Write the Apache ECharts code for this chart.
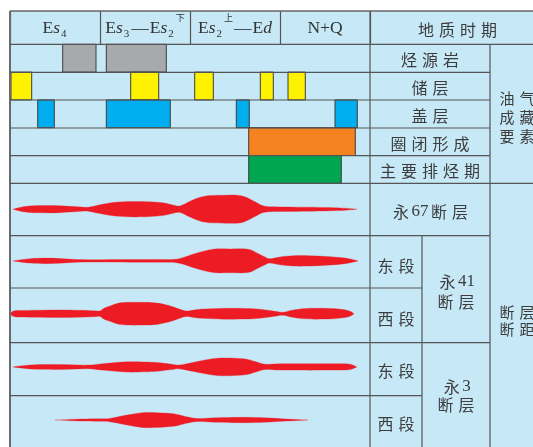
<!DOCTYPE html>
<html><head><meta charset="utf-8">
<script src="https://cdn.jsdelivr.net/npm/echarts@6/dist/echarts.min.js"></script>
<style>html,body{margin:0;padding:0;background:#fff}#c{width:533px;height:447px}</style>
</head><body><div id="c"></div>
<script>
// ---------- DATA ----------
// geological periods (time axis 0–360, each period 90 units)
const periods = ['Es4', 'Es3—Es2下', 'Es2上—Ed', 'N+Q'];
// petroleum system elements (rows)
const elementRows = ['烃源岩', '储层', '盖层', '圈闭形成', '主要排烃期'];
// [start, end] on the time axis
const sourceRock    = [[52.7, 86], [96.3, 156.3]];
const reservoir     = [[1, 21.7], [120.7, 148.7], [184.7, 203.3], [250.3, 263.3], [278, 295.3]];
const caprock       = [[27.7, 44.3], [96.3, 160.3], [226.3, 239.3], [325, 347.3]];
const trapFormation = [[238.7, 345.3]];
const mainExpulsion = [[238.7, 331.3]];

// fault throw profiles (x on time axis, relative throw thickness)
const faultNames = ['永67断层', '永41断层东段', '永41断层西段', '永3断层东段', '永3断层西段'];
const y67X  = [3, 15, 33, 50, 68, 78, 90, 105, 123, 140, 153, 162, 170, 180, 190, 200, 215, 227, 235, 245, 255, 275, 300, 330, 347];
const y67T  = [0, 5.6, 7.4, 7, 4.8, 4, 9, 14, 15.6, 15, 13, 9, 6.6, 16, 24, 27.6, 28.4, 28.4, 25, 15, 6, 4.6, 4, 2.6, 0];
const y41EX = [3, 20, 35, 50, 67, 90, 120, 150, 165, 175, 187, 203, 220, 238, 248, 255, 260, 270, 283, 300, 317, 335, 348];
const y41ET = [0, 4.4, 5.6, 4.8, 2.8, 2.4, 2.6, 2.8, 3.2, 8, 16, 23.6, 24, 23.6, 15, 8, 4.4, 8, 10.4, 10.4, 8.8, 5.6, 0];
const y41WX = [0.5, 2, 6, 10, 30, 50, 70, 85, 90, 94, 100, 108, 117, 135, 147, 156, 163, 170, 177, 190, 216, 235, 250, 265, 273, 282, 295, 307, 323, 333, 340, 344];
const y41WT = [0, 4, 6.4, 6.6, 7.2, 7.6, 7, 6, 5.6, 11, 15.4, 21, 23, 23, 21.6, 18, 14, 9, 5.6, 9, 11, 10.8, 9.2, 5, 3, 7, 10.4, 11, 10.4, 8.4, 5, 0];
const y3EX  = [3, 20, 40, 60, 78, 95, 117, 135, 147, 160, 170, 185, 207, 233, 245, 255, 270, 300, 330, 340, 347];
const y3ET  = [0, 4, 5, 4.6, 3.6, 7, 10.4, 10, 9, 6, 4, 10, 17.6, 16.6, 11, 5.4, 6.4, 6.6, 6.4, 5.4, 0];
const y3WX  = [45, 60, 73, 90, 98, 107, 117, 130, 140, 155, 167, 178, 188, 205, 233, 255, 277, 290, 298];
const y3WT  = [0, 1.2, 2, 2.4, 2.8, 6, 10, 14.4, 15.4, 14, 11.4, 6, 3, 4.4, 5.4, 4.4, 2, 0.8, 0];

// ---------- LAYOUT ----------
const X0 = 10, XC = 370, XS = 422, XL = 490, XR = 545;
const Y0 = 11, YH = 44.3;
const botRowLines = [183.3, 235.7, 288, 342.7, 395.7, 450.3];
const BOT_TOP = 183.3, BOT_H = 267;
const faultX = [y67X, y41EX, y41WX, y3EX, y3WX];
const faultT = [y67T, y41ET, y41WT, y3ET, y3WT];

const TXT = '#3c3c3c', LINE = '#555';
const CJK = '"Noto Sans CJK SC", sans-serif';
const SERIF = '"Liberation Serif", "DejaVu Serif", serif';

function richPeriod(s) {
  let out = '', cur = null, buf = '';
  const kind = (c) => /[上下]/.test(c) ? 'sup' : /\d/.test(c) ? 'sub' : /[sd]/.test(c) ? 'i' : /—/.test(c) ? 'dash' : 'n';
  for (const c of s) {
    const k = kind(c);
    if (k !== cur && buf) { out += '{' + cur + '|' + buf + '}'; buf = ''; }
    cur = k; buf += c;
  }
  if (buf) out += '{' + cur + '|' + buf + '}';
  return out;
}
function spaced(s, style) {
  let out = '', num = '';
  for (const c of s) {
    if (/\d/.test(c)) { num += c; continue; }
    if (num) { out += '{d|' + num + '}'; num = ''; }
    out += '{' + style + '|' + c + '}';
  }
  if (num) out += '{d|' + num + '}';
  return out;
}
const charRich = {
  c:  { fontFamily: CJK, fontSize: 16, color: TXT, width: 21, align: 'center' },
  c2: { fontFamily: CJK, fontSize: 15, color: TXT, width: 20, align: 'center' },
  d:  { fontFamily: SERIF, fontSize: 17, color: TXT, align: 'center' }
};

function toBars(arr, row) { return arr.map(p => [row, p[0], p[1]]); }

function renderBar(params, api) {
  const row = api.value(0);
  const p0 = api.coord([api.value(1), row]);
  const p1 = api.coord([api.value(2), row]);
  const h = api.size([0, 1])[1];
  return { type: 'rect',
    shape: { x: p0[0], y: p0[1] - h / 2, width: p1[0] - p0[0], height: h },
    style: { fill: api.visual('color'), stroke: '#3d3d3d', lineWidth: 1 } };
}

function curve(pts) {
  let d = '';
  const n = pts.length, k = 1 / 6;
  for (let i = 0; i < n - 1; i++) {
    const a = pts[Math.max(i - 1, 0)], b = pts[i], c = pts[i + 1], e = pts[Math.min(i + 2, n - 1)];
    const c1 = [b[0] + (c[0] - a[0]) * k, b[1] + (c[1] - a[1]) * k];
    const c2 = [c[0] - (e[0] - b[0]) * k, c[1] - (e[1] - b[1]) * k];
    d += ' C' + c1[0].toFixed(2) + ',' + c1[1].toFixed(2) + ' ' + c2[0].toFixed(2) + ',' + c2[1].toFixed(2) + ' ' + c[0].toFixed(2) + ',' + c[1].toFixed(2);
  }
  return d;
}
function renderLens(params, api) {
  const i = api.value(0);
  const xs = faultX[i], ts = faultT[i];
  const center = ((botRowLines[i] + botRowLines[i + 1]) / 2) - BOT_TOP;
  const top = xs.map((x, j) => api.coord([x, center - ts[j] / 2]));
  const bot = xs.map((x, j) => api.coord([x, center + ts[j] / 2])).reverse();
  const d = 'M' + top[0][0] + ',' + top[0][1] + curve(top) + ' L' + bot[0][0] + ',' + bot[0][1] + curve(bot) + ' Z';
  return { type: 'path', shape: { pathData: d }, style: { fill: '#ed1c24', stroke: '#ed1c24', lineWidth: 0.3 } };
}

// ---------- GRAPHIC (table frame & labels) ----------
const g = [];
g.push({ type: 'rect', z: 50, shape: { x: 0, y: 0, width: 533, height: Y0 }, style: { fill: '#fff' } });
g.push({ type: 'rect', z: 50, shape: { x: 0, y: 0, width: X0, height: 447 }, style: { fill: '#fff' } });
function L(x1, y1, x2, y2, w, col) { g.push({ type: 'line', z: 60, shape: { x1, y1, x2, y2 }, style: { stroke: col || LINE, lineWidth: w || 1.2 } }); }
L(X0, Y0, 533, Y0, 1.4, '#666');
L(X0, Y0, X0, 447, 2, '#6a6a6a');
L(X0, YH, 533, YH);
[72.3, 100, 128, 155.7].forEach(y => L(X0, y, XL, y));
L(X0, 183.3, 533, 183.3);
L(X0, 235.7, XL, 235.7); L(X0, 288, XS, 288); L(X0, 342.7, XL, 342.7); L(X0, 395.7, XS, 395.7);
L(XC, Y0, XC, 447); L(XL, YH, XL, 447); L(XS, 235.7, XS, 447);
function T(x, y, text, align) {
  g.push({ type: 'text', z: 70, x, y,
    style: { text, align: align || 'center', verticalAlign: 'middle', rich: charRich, fill: TXT } });
}
T(457.5, 29.5, spaced('地质时期', 'c'));
T(430.5, 211.5, '{c|永}{d|67}{c|断}{c|层}');
T(396, 266, spaced('东段', 'c')); T(396, 318.5, spaced('西段', 'c'));
T(396, 371, spaced('东段', 'c')); T(396, 423.5, spaced('西段', 'c'));
T(456, 282, '{c|永}{d|41}'); T(456, 302, spaced('断层', 'c'));
T(456, 387, '{c|永}{d|3}'); T(456, 405, spaced('断层', 'c'));
T(497, 98, spaced('油气', 'c2'), 'left'); T(497, 117, spaced('成藏', 'c2'), 'left'); T(497, 136, spaced('要素', 'c2'), 'left');
T(497, 312, spaced('断层', 'c2'), 'left'); T(497, 329, spaced('断距', 'c2'), 'left');

// ---------- CHART ----------
const HC = '#333';
const chart = echarts.init(document.getElementById('c'), null, { renderer: 'canvas' });
chart.setOption({
  backgroundColor: '#c6e8f7',
  animation: false,
  grid: [
    { left: X0, top: YH, width: XC - X0, height: 183.3 - YH, show: false },
    { left: X0, top: BOT_TOP, width: XC - X0, height: BOT_H, show: false }
  ],
  xAxis: [
    { type: 'value', gridIndex: 0, min: 0, max: 360, show: false },
    { type: 'value', gridIndex: 1, min: 0, max: 360, show: false },
    { type: 'category', gridIndex: 0, position: 'top', data: periods,
      axisLine: { show: false }, splitLine: { show: false },
      axisTick: { show: true, length: YH - Y0, interval: 0, lineStyle: { color: LINE, width: 1.2 } },
      axisLabel: { interval: 0, margin: 1, formatter: v => richPeriod(v),
        rich: {
          n: { fontFamily: SERIF, fontSize: 17.5, color: HC, lineHeight: 30 },
          dash: { fontFamily: SERIF, fontSize: 17.5, color: HC, lineHeight: 30, padding: [0, 1, 0, 1] },
          i: { fontFamily: SERIF, fontSize: 17.5, fontStyle: 'italic', color: HC, lineHeight: 30 },
          sub: { fontFamily: SERIF, fontSize: 11, color: HC, lineHeight: 11, verticalAlign: 'bottom', padding: [0, 1, 4, 1] },
          sup: { fontFamily: CJK, fontSize: 9, color: HC, lineHeight: 7, verticalAlign: 'top', padding: [0, 0, 0, 1] }
        } } }
  ],
  yAxis: [
    { type: 'category', gridIndex: 0, inverse: true, data: elementRows, position: 'right',
      axisLine: { show: false }, axisTick: { show: false }, splitLine: { show: false },
      axisLabel: { margin: 60, align: 'center', padding: [4, 0, 0, 0], formatter: v => spaced(v, 'c'), rich: charRich } },
    { type: 'value', gridIndex: 1, min: 0, max: BOT_H, inverse: true, show: false }
  ],
  graphic: g,
  series: [
    { type: 'custom', name: '烃源岩', xAxisIndex: 0, yAxisIndex: 0, itemStyle: { color: '#a7a9ac' }, renderItem: renderBar, encode: { x: [1, 2], y: 0 }, data: toBars(sourceRock, 0) },
    { type: 'custom', name: '储层', xAxisIndex: 0, yAxisIndex: 0, itemStyle: { color: '#fff200' }, renderItem: renderBar, encode: { x: [1, 2], y: 0 }, data: toBars(reservoir, 1) },
    { type: 'custom', name: '盖层', xAxisIndex: 0, yAxisIndex: 0, itemStyle: { color: '#00aeef' }, renderItem: renderBar, encode: { x: [1, 2], y: 0 }, data: toBars(caprock, 2) },
    { type: 'custom', name: '圈闭形成', xAxisIndex: 0, yAxisIndex: 0, itemStyle: { color: '#f58220' }, renderItem: renderBar, encode: { x: [1, 2], y: 0 }, data: toBars(trapFormation, 3) },
    { type: 'custom', name: '主要排烃期', xAxisIndex: 0, yAxisIndex: 0, itemStyle: { color: '#00a651' }, renderItem: renderBar, encode: { x: [1, 2], y: 0 }, data: toBars(mainExpulsion, 4) },
    { type: 'custom', name: '断距', xAxisIndex: 1, yAxisIndex: 1, renderItem: renderLens, data: faultNames.map((n, i) => [i]) }
  ]
});
</script></body></html>
